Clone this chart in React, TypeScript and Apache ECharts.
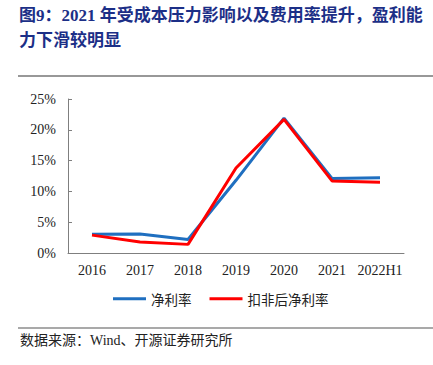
import React, { useEffect, useRef } from "react";
import * as echarts from "echarts";

const categories = ["2016", "2017", "2018", "2019", "2020", "2021", "2022H1"];
const netMargin = [3.05, 3.1, 2.2, 11.8, 21.9, 12.1, 12.2];
const deductedNetMargin = [2.9, 1.8, 1.4, 13.8, 21.7, 11.7, 11.5];
const yTicks = [0, 5, 10, 15, 20, 25];
const titleLine1 = "图9：2021 年受成本压力影响以及费用率提升，盈利能";
const titleLine2 = "力下滑较明显";
const sourceText = "数据来源：Wind、开源证券研究所";
const seriesNames = ["净利率", "扣非后净利率"];

export default function App() {
  const ref = useRef<HTMLDivElement>(null);
  useEffect(() => {
    if (!ref.current) return;
    const chart = echarts.init(ref.current, null, { renderer: "svg" });
    const serif = "'Liberation Serif', 'Times New Roman', 'Noto Sans CJK SC', serif";
    const titleFont = "'Liberation Serif', 'Noto Sans CJK SC', serif";
    chart.setOption({
      animation: false,
      backgroundColor: "#ffffff",
      graphic: [
        {
          type: "text",
          left: 19,
          top: 7,
          style: {
            text: titleLine1,
            fontSize: 17,
            fontWeight: "bold",
            fontFamily: titleFont,
            fill: "#1c2f87",
          },
        },
        {
          type: "text",
          left: 19,
          top: 32,
          style: {
            text: titleLine2,
            fontSize: 17,
            fontWeight: "bold",
            fontFamily: titleFont,
            fill: "#1c2f87",
          },
        },
        {
          type: "line",
          shape: { x1: 18, y1: 76, x2: 433, y2: 76 },
          style: { stroke: "#333333", lineWidth: 1.2 },
        },
        {
          type: "line",
          shape: { x1: 18, y1: 328, x2: 433, y2: 328 },
          style: { stroke: "#555555", lineWidth: 1.2 },
        },
        {
          type: "text",
          left: 20,
          top: 333,
          style: {
            text: sourceText,
            fontSize: 14,
            fontFamily: titleFont,
            fill: "#222222",
          },
        },
      ],
      legend: {
        left: 113,
        top: 292,
        padding: 0,
        itemWidth: 33,
        itemHeight: 3,
        itemGap: 18,
        icon: "rect",
        textStyle: { fontSize: 13.5, color: "#222", fontFamily: "'Noto Sans CJK SC', sans-serif" },
        data: seriesNames,
      },
      grid: { left: 68, right: 29, top: 99, bottom: 112, containLabel: false },
      xAxis: {
        type: "category",
        data: categories,
        boundaryGap: true,
        axisLine: { lineStyle: { color: "#7f7f7f", width: 1 } },
        axisTick: { inside: true, length: 4, lineStyle: { color: "#7f7f7f" } },
        axisLabel: { color: "#222", fontSize: 14, fontFamily: serif, margin: 10, interval: 0 },
      },
      yAxis: {
        type: "value",
        min: yTicks[0],
        max: yTicks[yTicks.length - 1],
        interval: 5,
        splitLine: { show: false },
        axisLine: { show: true, lineStyle: { color: "#7f7f7f", width: 1 } },
        axisTick: { show: true, inside: true, length: 4, lineStyle: { color: "#7f7f7f" } },
        axisLabel: { color: "#222", fontSize: 14, fontFamily: serif, margin: 12, formatter: "{value}%" },
      },
      series: [
        {
          name: seriesNames[0],
          type: "line",
          data: netMargin,
          symbol: "none",
          lineStyle: { color: "#1f6fc0", width: 3 },
          itemStyle: { color: "#1f6fc0" },
        },
        {
          name: seriesNames[1],
          type: "line",
          data: deductedNetMargin,
          symbol: "none",
          lineStyle: { color: "#ff0000", width: 3 },
          itemStyle: { color: "#ff0000" },
        },
      ],
    });
    return () => chart.dispose();
  }, []);
  return (
    <div
      ref={ref}
      style={{ position: "absolute", left: 0, top: 0, width: 433, height: 365 }}
    />
  );
}
